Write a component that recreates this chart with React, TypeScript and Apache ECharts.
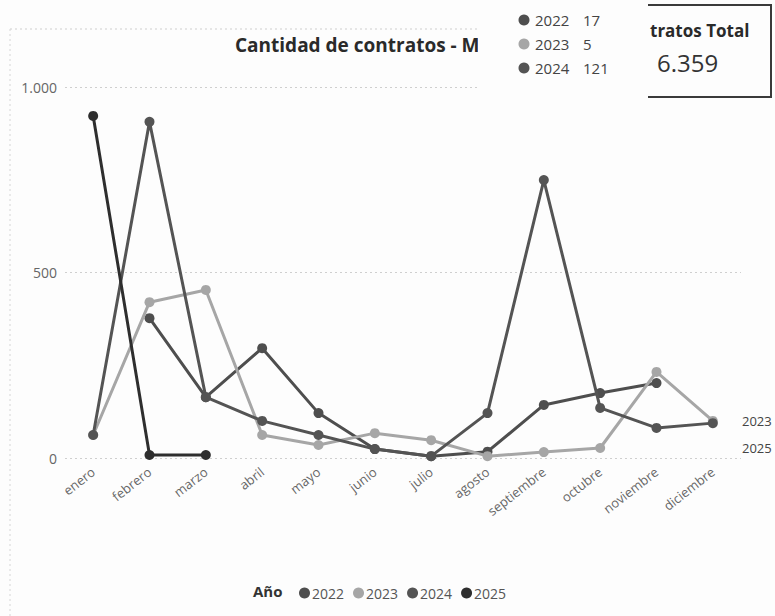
import React, { useEffect, useRef } from "react";
import * as echarts from "echarts";

const months = ["enero", "febrero", "marzo", "abril", "mayo", "junio", "julio", "agosto", "septiembre", "octubre", "noviembre", "diciembre"];
const years = ["2022", "2023", "2024", "2025"];
const s2022 = [null, 377, 164, 296, 121, 24, 5, 17, 143, 175, 202, null];
const s2023 = [62, 420, 453, 62, 35, 67, 48, 5, 16, 27, 232, 100];
const s2024 = [62, 906, 164, 100, 62, 24, 5, 121, 749, 135, 81, 94];
const s2025 = [922, 8, 8, null, null, null, null, null, null, null, null, null];
const yTicks = [0, 500, 1000];
const totalContratos = 6359;
const tooltipMonthIndex = 7;
const sideLabels = ["2023", "2025"];

const colors = ["#4e4e4e", "#a6a6a6", "#545454", "#2e2e2e"];
const FONT = "'Open Sans', 'Noto Sans', sans-serif";

function fmt(v: number): string {
  return String(v).replace(/\B(?=(\d{3})+(?!\d))/g, ".");
}

export default function App() {
  const ref = useRef<HTMLDivElement>(null);
  useEffect(() => {
    if (!ref.current) return;
    const chart = echarts.init(ref.current, undefined, { renderer: "svg" });
    const seriesData = [s2022, s2023, s2024, s2025];
    const tipVals = [s2022, s2023, s2024].map((s) => s[tooltipMonthIndex]);
    const tipElems: any[] = [];
    [0, 1, 2].forEach((i) => {
      const y = 20 + i * 24;
      tipElems.push({ type: "circle", shape: { cx: 524, cy: y, r: 5.5 }, style: { fill: colors[i] }, z: 101 });
      tipElems.push({ type: "text", x: 535, y, style: { text: years[i], font: `15px ${FONT}`, fill: "#444", verticalAlign: "middle" }, z: 101 });
      tipElems.push({ type: "text", x: 583, y, style: { text: String(tipVals[i]), font: `15px ${FONT}`, fill: "#444", verticalAlign: "middle" }, z: 101 });
    });
    chart.setOption({
      animation: false,
      backgroundColor: "#fdfdfd",
      grid: { left: 65, right: 34, top: 87, bottom: 158 },
      xAxis: {
        type: "category",
        data: months,
        boundaryGap: true,
        axisLine: { show: false },
        axisTick: { show: false },
        axisLabel: { rotate: 38, color: "#666", fontSize: 13, fontFamily: FONT, margin: 12, interval: 0 },
      },
      yAxis: {
        type: "value",
        min: yTicks[0],
        max: yTicks[yTicks.length - 1],
        interval: 500,
        axisLabel: { color: "#666", fontSize: 14, fontFamily: FONT, margin: 8, formatter: (v: number) => fmt(v) },
        splitLine: { show: true, lineStyle: { color: "#cfcfcf", type: [2, 3], width: 1 } },
        axisLine: { show: false },
        axisTick: { show: false },
      },
      legend: {
        left: 294,
        top: 581,
        icon: "circle",
        itemWidth: 11,
        itemHeight: 11,
        itemGap: 9,
        textStyle: { color: "#555", fontSize: 14, fontFamily: FONT, padding: [0, 0, 0, -3] },
        data: years,
      },
      series: seriesData.map((d, i) => ({
        name: years[i],
        type: "line",
        data: d,
        symbol: "circle",
        symbolSize: 10,
        connectNulls: false,
        itemStyle: { color: colors[i] },
        lineStyle: { color: colors[i], width: 3 },
        z: i === 1 ? 3 : 2 + i,
      })),
      graphic: [
        { type: "line", shape: { x1: 10, y1: 29, x2: 480, y2: 29 }, style: { stroke: "#cfcfcf", lineDash: [2, 3], lineWidth: 1 } },
        { type: "line", shape: { x1: 10, y1: 29, x2: 10, y2: 616 }, style: { stroke: "#d6d6d6", lineDash: [2, 3], lineWidth: 1 } },
        { type: "text", x: 235, y: 45, style: { text: "Cantidad de contratos - M", font: `bold 19px ${FONT}`, fill: "#2a2a2a", verticalAlign: "middle" }, z: 50 },
        { type: "rect", shape: { x: 478, y: 0, width: 160, height: 90 }, style: { fill: "#fdfdfd" }, z: 100 },
        ...tipElems,
        { type: "rect", shape: { x: 640, y: 0, width: 135, height: 100 }, style: { fill: "#fdfdfd" }, z: 100 },
        { type: "polyline", shape: { points: [[648, 5], [771, 5], [771, 97], [648, 97]] }, style: { stroke: "#3a3a3a", lineWidth: 2, fill: null }, z: 101 },
        { type: "text", x: 650, y: 30, style: { text: "tratos Total", font: `bold 17px ${FONT}`, fill: "#2a2a2a", verticalAlign: "middle" }, z: 101 },
        { type: "text", x: 657, y: 62, style: { text: fmt(totalContratos), font: `24px ${FONT}`, fill: "#333", verticalAlign: "middle" }, z: 101 },
        { type: "text", x: 742, y: 421, style: { text: sideLabels[0], font: `13px ${FONT}`, fill: "#444", verticalAlign: "middle" } },
        { type: "text", x: 742, y: 448, style: { text: sideLabels[1], font: `13px ${FONT}`, fill: "#444", verticalAlign: "middle" } },
        { type: "text", x: 253, y: 591, style: { text: "Año", font: `bold 15px ${FONT}`, fill: "#333", verticalAlign: "middle" } },
      ],
    });
    return () => chart.dispose();
  }, []);
  return <div ref={ref} style={{ position: "fixed", left: 0, top: 0, width: 775, height: 616 }} />;
}
